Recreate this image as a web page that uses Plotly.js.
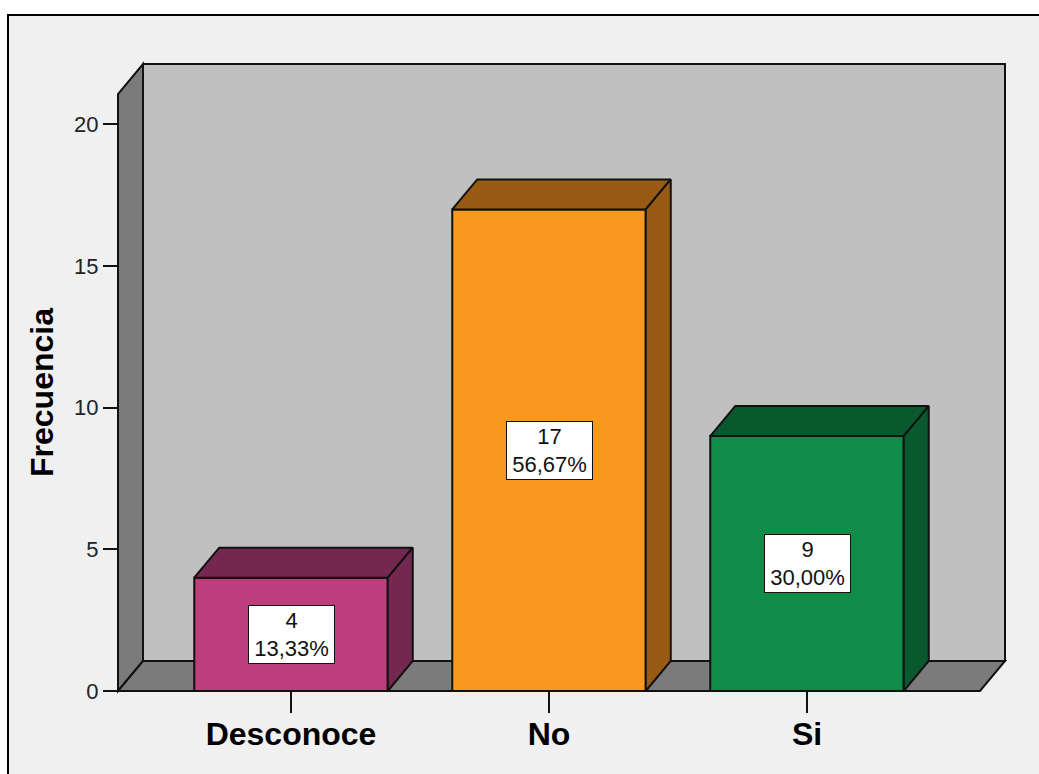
<!DOCTYPE html>
<html>
<head>
<meta charset="utf-8">
<script src="https://cdn.plot.ly/plotly-3.0.1.min.js"></script>
<style>
  html, body { margin: 0; padding: 0; background: #ffffff; overflow: hidden; }
  #chart { width: 1039px; height: 774px; }
</style>
</head>
<body>
<div id="chart"></div>
<script>
// Frequency table
const categories = ['Desconoce', 'No', 'Si'];
const counts = [4, 17, 9];
const yTickValues = [0, 5, 10, 15, 20];

// Bar colours: front face and the darker top/side faces
const frontColors = ['#bc3e7c', '#f8981e', '#108b48'];
const shadeColors = ['#742850', '#995a14', '#0a592e'];

// Page geometry
const W = 1039, H = 774;
const M = { l: 100, r: 20, t: 50, b: 70 };
const plotW = W - M.l - M.r;
const plotH = H - M.t - M.b;

// Pixel anchors of the axis scales
const X0PX = 291, XUNIT = 258;   // category 0 centre, px per category
const Y0PX = 691, YUNIT = 28.33; // baseline, px per count
const pxToX = p => (p - X0PX) / XUNIT;
const pxToY = p => (Y0PX - p) / YUNIT;

const xRange = [pxToX(M.l), pxToX(W - M.r)];
const yRange = [pxToY(H - M.b), pxToY(M.t)];

// 3D depth of the box and bars
const dx = 25 / XUNIT;
const dy = 30 / YUNIT;
const barWidth = 0.75;

// Box walls
const wallLeft = pxToX(118);
const wallRight = pxToX(980);
const wallTop = pxToY(64);

const edge = '#111111';
const total = counts.reduce((a, b) => a + b, 0);
const idx = categories.map((c, i) => i);

const traces = [];
traces.push({
  type: 'bar',
  x: idx,
  y: counts,
  width: barWidth,
  marker: { color: frontColors, line: { color: edge, width: 2 } },
  hoverinfo: 'skip'
});

// Top and right faces of each bar
counts.forEach((v, i) => {
  const l = i - barWidth / 2, r = i + barWidth / 2;
  traces.push({
    type: 'scatter', mode: 'lines', fill: 'toself',
    x: [l, l + dx, r + dx, r, l],
    y: [v, v + dy, v + dy, v, v],
    fillcolor: shadeColors[i],
    line: { color: edge, width: 2 },
    hoverinfo: 'skip'
  });
  traces.push({
    type: 'scatter', mode: 'lines', fill: 'toself',
    x: [r, r + dx, r + dx, r, r],
    y: [0, dy, v + dy, v, 0],
    fillcolor: shadeColors[i],
    line: { color: edge, width: 2 },
    hoverinfo: 'skip'
  });
});

const labelFont = { family: 'Liberation Sans, Arial, sans-serif', size: 22, color: '#111111' };
const annotations = counts.map((v, i) => ({
  xref: 'x', yref: 'y', x: i, y: v / 2,
  text: v + '<br>' + (v / total * 100).toFixed(2).replace('.', ',') + '%',
  showarrow: false,
  font: labelFont,
  bgcolor: '#ffffff',
  bordercolor: '#111111',
  borderwidth: 1,
  width: 83,
  height: 55,
  align: 'center',
  valign: 'middle',
  xanchor: 'center', yanchor: 'middle'
}));

annotations.push({
  xref: 'paper', yref: 'paper',
  x: (42 - M.l) / plotW,
  y: (H - M.b - 393) / plotH,
  text: 'Frecuencia',
  textangle: -90,
  showarrow: false,
  font: { family: 'Liberation Sans, Arial, sans-serif', size: 32, color: '#000000', weight: 'bold' },
  xanchor: 'center', yanchor: 'middle'
});

const shapes = [
  // outer frame
  {
    type: 'rect', xref: 'paper', yref: 'paper', layer: 'below',
    x0: (8 - M.l) / plotW, x1: 1.3,
    y0: -0.3, y1: (H - M.b - 15) / plotH,
    fillcolor: '#f0f0f0', line: { color: '#000000', width: 2 }
  },
  // back wall
  {
    type: 'rect', xref: 'x', yref: 'y', layer: 'below',
    x0: wallLeft + dx, x1: wallRight + dx, y0: dy, y1: wallTop,
    fillcolor: '#c0c0c0', line: { color: edge, width: 2 }
  },
  // left wall
  {
    type: 'path', xref: 'x', yref: 'y', layer: 'below',
    path: `M ${wallLeft},0 L ${wallLeft + dx},${dy} L ${wallLeft + dx},${wallTop} L ${wallLeft},${wallTop - dy} Z`,
    fillcolor: '#7b7b7b', line: { color: edge, width: 2 }
  },
  // floor
  {
    type: 'path', xref: 'x', yref: 'y', layer: 'below',
    path: `M ${wallLeft},0 L ${wallRight},0 L ${wallRight + dx},${dy} L ${wallLeft + dx},${dy} Z`,
    fillcolor: '#7b7b7b', line: { color: edge, width: 2 }
  }
];

const layout = {
  width: W, height: H,
  margin: M,
  paper_bgcolor: '#ffffff',
  plot_bgcolor: 'rgba(0,0,0,0)',
  showlegend: false,
  hovermode: false,
  xaxis: {
    type: 'linear',
    range: xRange,
    anchor: 'free',
    position: (H - M.b - Y0PX) / plotH,
    tickmode: 'array',
    tickvals: idx,
    ticktext: categories,
    ticks: 'outside', ticklen: 21, tickwidth: 2, tickcolor: '#111111',
    ticklabelstandoff: -6,
    tickfont: { family: 'Liberation Sans, Arial, sans-serif', size: 32, color: '#000000', weight: 'bold' },
    showline: false, showgrid: false, zeroline: false,
    fixedrange: true
  },
  yaxis: {
    range: yRange,
    anchor: 'free',
    position: (118 - M.l) / plotW,
    tickmode: 'array',
    tickvals: yTickValues,
    ticktext: yTickValues.map(String),
    ticks: 'outside', ticklen: 15, tickwidth: 2, tickcolor: '#111111',
    tickfont: { family: 'Liberation Sans, Arial, sans-serif', size: 22, color: '#222222' },
    showline: false, showgrid: false, zeroline: false,
    fixedrange: true
  },
  shapes: shapes,
  annotations: annotations
};

Plotly.newPlot('chart', traces, layout, { displayModeBar: false, staticPlot: true });
</script>
</body>
</html>
